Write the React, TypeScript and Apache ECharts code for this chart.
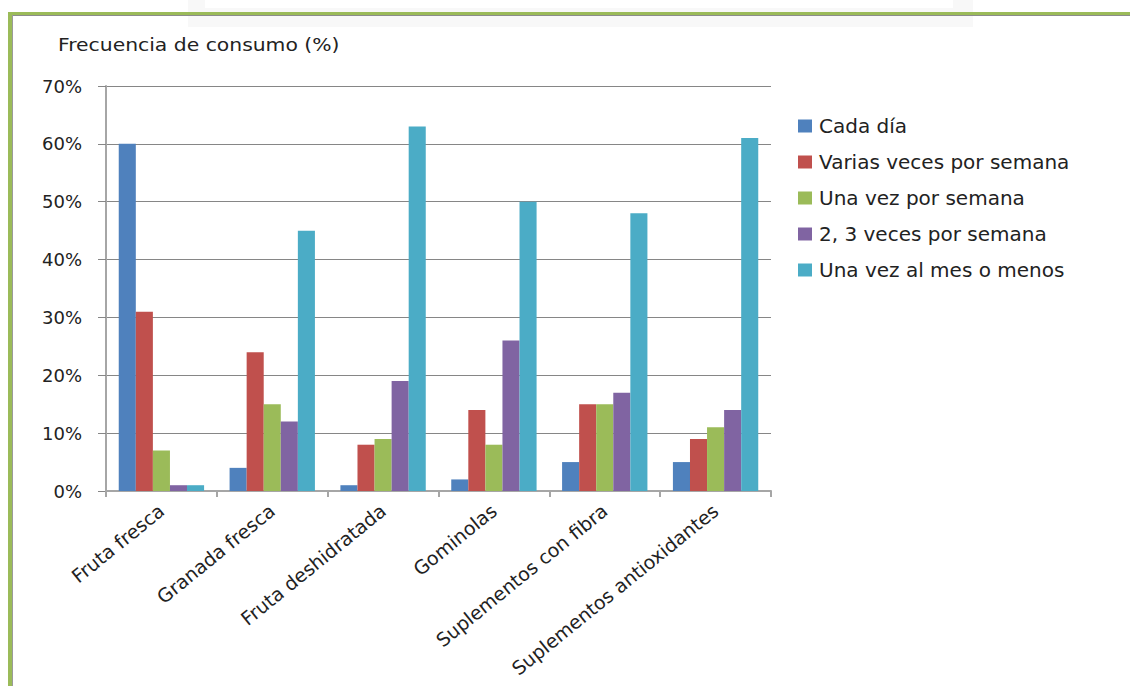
import React, { useEffect, useRef } from "react";
import * as echarts from "echarts";

const categories = [
  "Fruta fresca",
  "Granada fresca",
  "Fruta deshidratada",
  "Gominolas",
  "Suplementos con fibra",
  "Suplementos antioxidantes",
];
const seriesNames = [
  "Cada día",
  "Varias veces por semana",
  "Una vez por semana",
  "2, 3 veces por semana",
  "Una vez al mes o menos",
];
const cadaDia = [60, 4, 1, 2, 5, 5];
const variasVeces = [31, 24, 8, 14, 15, 9];
const unaVezSemana = [7, 15, 9, 8, 15, 11];
const dosTresVeces = [1, 12, 19, 26, 17, 14];
const unaVezMes = [1, 45, 63, 50, 48, 61];
const colors = ["#4F81BD", "#C0504D", "#9BBB59", "#8064A2", "#4BACC6"];
const yTicks = [0, 10, 20, 30, 40, 50, 60, 70];

const FONT = "'DejaVu Sans', 'Noto Sans', sans-serif";

export default function App() {
  const ref = useRef<HTMLDivElement>(null);
  useEffect(() => {
    const chart = echarts.init(ref.current!, null, { renderer: "svg" });
    const values = [cadaDia, variasVeces, unaVezSemana, dosTresVeces, unaVezMes];
    chart.setOption({
      animation: false,
      backgroundColor: "#ffffff",
      color: colors,
      textStyle: { fontFamily: FONT },
      graphic: [
        { type: "rect", shape: { x: 188, y: 0, width: 785, height: 27 }, style: { fill: "#f8f8f8" }, silent: true },
        { type: "rect", shape: { x: 205, y: 0, width: 748, height: 8 }, style: { fill: "#ffffff" }, silent: true },
        { type: "rect", shape: { x: 8, y: 12, width: 1122, height: 3 }, style: { fill: "#9BBB59" }, silent: true },
        { type: "rect", shape: { x: 11, y: 15, width: 1119, height: 1 }, style: { fill: "#8c8c8c" }, silent: true },
        { type: "rect", shape: { x: 8, y: 12, width: 4, height: 674 }, style: { fill: "#9BBB59" }, silent: true },
        { type: "rect", shape: { x: 12, y: 15, width: 1, height: 671 }, style: { fill: "#9a9a9a" }, silent: true },
        {
          type: "text",
          x: 58,
          y: 45,
          scaleX: 1.13,
          style: {
            text: "Frecuencia de consumo (%)",
            fontFamily: FONT,
            fontSize: 18,
            fill: "#222222",
            textVerticalAlign: "middle",
          },
        },
      ],
      grid: { left: 106, right: 359, top: 86, bottom: 195, containLabel: false },
      legend: {
        orient: "vertical",
        left: 793,
        top: 111,
        itemWidth: 14,
        itemHeight: 13,
        itemGap: 16,
        icon: "rect",
        textStyle: {
          fontFamily: FONT,
          fontSize: 20,
          lineHeight: 20,
          color: "#222222",
          padding: [0, 0, 0, 2],
        },
        data: seriesNames,
      },
      xAxis: {
        type: "category",
        data: categories,
        axisLine: { lineStyle: { color: "#a6a6a6", width: 2 } },
        axisTick: { show: true, length: 6, lineStyle: { color: "#a6a6a6", width: 2 } },
        axisLabel: {
          rotate: 39,
          interval: 0,
          fontFamily: FONT,
          fontSize: 19,
          color: "#222222",
          margin: 17,
        },
      },
      yAxis: {
        type: "value",
        min: 0,
        max: 70,
        interval: 10,
        axisLine: { show: true, lineStyle: { color: "#a6a6a6", width: 2 } },
        axisTick: { show: true, length: 8, lineStyle: { color: "#868686" } },
        splitLine: { lineStyle: { color: "#868686", width: 1 } },
        axisLabel: {
          fontFamily: FONT,
          fontSize: 18,
          color: "#222222",
          margin: 24,
          formatter: (v: number) => (yTicks.includes(v) ? v + "%" : ""),
        },
      },
      series: seriesNames.map((name, i) => ({
        name,
        type: "bar",
        data: values[i],
        barGap: "0%",
        barCategoryGap: "23%",
        itemStyle: { color: colors[i] },
      })),
    });
    return () => chart.dispose();
  }, []);
  return (
    <div
      ref={ref}
      style={{ position: "fixed", left: 0, top: 0, width: 1130, height: 686 }}
    />
  );
}
